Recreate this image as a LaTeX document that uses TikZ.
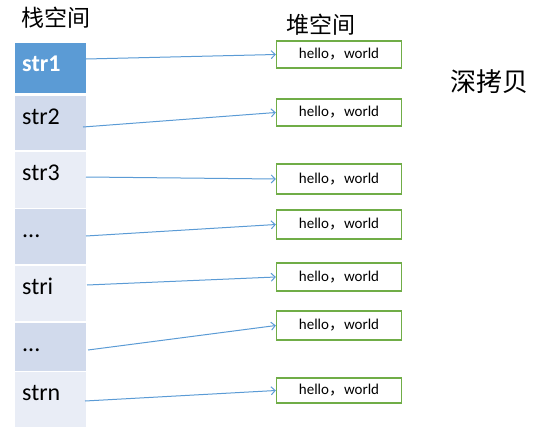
\documentclass[tikz,border=0pt]{standalone}
\usepackage{fontspec}
\setmainfont{Carlito}
\newfontfamily\cjk{Noto Sans CJK SC}
\usetikzlibrary{arrows.meta}
\definecolor{cellblue}{HTML}{5B9BD5}
\definecolor{celldark}{HTML}{D1DAEC}
\definecolor{celllight}{HTML}{E9EDF6}
\definecolor{boxgreen}{HTML}{70AD47}
\definecolor{linkblue}{HTML}{5B9BD5}
\newcommand{\stackdots}{...}

\tikzstyle{cell}=[rectangle,minimum width=71pt,inner sep=0pt,anchor=north west]
\tikzstyle{celltext}=[anchor=base west,inner sep=0pt,font=\fontsize{24}{26}\selectfont]
\tikzstyle{heap}=[draw=boxgreen,line width=1.3pt,minimum width=125pt,inner sep=0pt,font=\fontsize{15}{17}\selectfont]
\tikzstyle{link}=[draw,line width=1pt,->,>={Straight Barb[length=4pt,width=8pt]},linkblue]
\tikzstyle{title}=[font=\cjk\fontsize{23}{25}\selectfont]

\begin{document}
\begin{tikzpicture}[x=1pt,y=-1pt]
\useasboundingbox (0,0) rectangle (553,436);
\node[title] (stack) at (56,18) {栈空间};
\node[title] (heapspace) at (321,25) {堆空间};
\node[title,font=\cjk\fontsize{26}{28}\selectfont] (deep) at (489,82) {深拷贝};
\foreach \i/\top/\h/\col/\txt/\sx/\sy in {1/43/50/cellblue/str1/86/59, 2/96/54/celldark/str2/83/127,
                         3/152/56/celllight/str3/86/177, 4/209/55/celldark/\stackdots/86/236,
                         5/266/55/celllight/stri/87/285, 6/323/48/celldark/\stackdots/88/350,
                         7/372/55/celllight/strn/85/401}{
  \node[cell,fill=\col,minimum height=\h pt] (s\i) at (15,\top) {};
  \ifnum\i=1
  \node[celltext,text=white,font=\bfseries\fontsize{24}{26}\selectfont] (t\i) at (22,\top+28) {\txt};
  \else
  \node[celltext] (t\i) at (22,\top+28) {\txt};
  \fi
  \coordinate (a\i) at (\sx,\sy);
}
\foreach \i/\y/\h in {1/54.5/27, 2/112.5/27, 3/179/30, 4/224.5/29,
                      5/277/28, 6/325.5/29, 7/390.5/25}{
  \node[heap,minimum height=\h pt] (h\i) at (339,\y) {hello{\cjk ，}world};
  \path[link] (a\i) -- (h\i.west);
}
\end{tikzpicture}
\end{document}
